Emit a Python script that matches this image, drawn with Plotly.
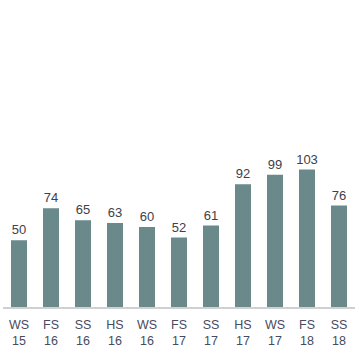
import plotly.graph_objects as go

categories = ["WS<br>15", "FS<br>16", "SS<br>16", "HS<br>16", "WS<br>16", "FS<br>17",
              "SS<br>17", "HS<br>17", "WS<br>17", "FS<br>18", "SS<br>18"]
values = [50, 74, 65, 63, 60, 52, 61, 92, 99, 103, 76]

fig = go.Figure(go.Bar(
    x=categories, y=values,
    marker=dict(color="#6a898b", line=dict(width=0)),
    text=[str(v) for v in values], textposition="outside",
    textfont=dict(family="Arial, Liberation Sans, sans-serif", size=13, color="#404048"),
    cliponaxis=False, constraintext="none",
))

fig.update_layout(
    width=359, height=359,
    margin=dict(l=3, r=4, t=20, b=52),
    paper_bgcolor="white", plot_bgcolor="white",
    bargap=0.5, showlegend=False,
    xaxis=dict(showline=True, linecolor="#d0d0d0", linewidth=2, ticks="",
               ticklabelstandoff=5,
               tickfont=dict(family="Arial, Liberation Sans, sans-serif", size=12.5, color="#4a4a5e"),
               showgrid=False),
    yaxis=dict(range=[0, 215], visible=False, showgrid=False, zeroline=False),
)

fig.write_html("out.html", config={"displayModeBar": False},
               post_script="document.body.style.margin='0';")
